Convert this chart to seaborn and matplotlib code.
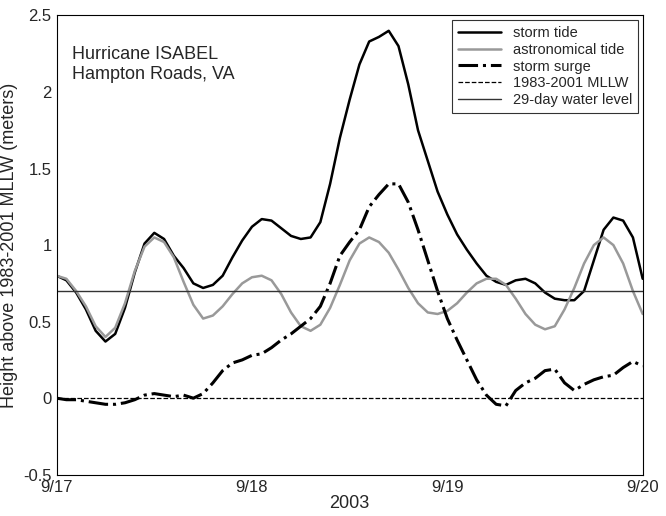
import numpy as np
import pandas as pd
import matplotlib
matplotlib.use('Agg')
import matplotlib.pyplot as plt
import seaborn as sns

# time in days after 9/17 00:00, every 0.05 day
days = [round(0.05 * i, 2) for i in range(61)]
astro = [0.80, 0.78, 0.70, 0.60, 0.47, 0.40, 0.46, 0.62, 0.83, 0.99,
         1.05, 1.02, 0.92, 0.76, 0.61, 0.52, 0.54, 0.60, 0.68, 0.75,
         0.79, 0.80, 0.77, 0.68, 0.56, 0.47, 0.44, 0.48, 0.59, 0.74,
         0.90, 1.01, 1.05, 1.02, 0.95, 0.84, 0.72, 0.62, 0.56, 0.55,
         0.57, 0.62, 0.69, 0.75, 0.78, 0.78, 0.74, 0.65, 0.55, 0.48,
         0.45, 0.47, 0.58, 0.72, 0.88, 1.00, 1.05, 1.00, 0.88, 0.70, 0.55]
surge = [0.00, -0.01, -0.01, -0.02, -0.03, -0.04, -0.04, -0.03, -0.01, 0.02,
         0.03, 0.02, 0.01, 0.02, 0.00, 0.03, 0.10, 0.18, 0.23, 0.25,
         0.28, 0.29, 0.33, 0.38, 0.42, 0.47, 0.52, 0.60, 0.75, 0.93,
         1.02, 1.10, 1.25, 1.33, 1.40, 1.40, 1.28, 1.10, 0.90, 0.70,
         0.52, 0.38, 0.25, 0.12, 0.02, -0.04, -0.05, 0.05, 0.10, 0.13,
         0.18, 0.19, 0.10, 0.05, 0.09, 0.12, 0.14, 0.15, 0.20, 0.24, 0.21]
storm = [0.80, 0.77, 0.69, 0.58, 0.44, 0.37, 0.42, 0.59, 0.82, 1.01,
         1.08, 1.04, 0.93, 0.85, 0.75, 0.72, 0.74, 0.80, 0.92, 1.03,
         1.12, 1.17, 1.16, 1.11, 1.06, 1.04, 1.05, 1.15, 1.40, 1.70,
         1.95, 2.18, 2.33, 2.36, 2.40, 2.30, 2.05, 1.75, 1.55, 1.35,
         1.20, 1.07, 0.97, 0.88, 0.80, 0.76, 0.74, 0.77, 0.78, 0.75,
         0.69, 0.65, 0.64, 0.64, 0.70, 0.90, 1.10, 1.18, 1.16, 1.05, 0.78]
tick_labels = ['9/17', '9/18', '9/19', '9/20']
mllw = 0.0
level29 = 0.70

df = pd.DataFrame({'day': days, 'storm': storm, 'astro': astro, 'surge': surge})

sns.set_style('white')
plt.rcParams['font.family'] = ['Liberation Sans', 'DejaVu Sans']
fig, ax = plt.subplots(figsize=(6.66, 5.16), dpi=100)

sns.lineplot(data=df, x='day', y='storm', ax=ax, color='black', lw=1.8, label='storm tide')
sns.lineplot(data=df, x='day', y='astro', ax=ax, color='#999999', lw=1.8, label='astronomical tide')
sns.lineplot(data=df, x='day', y='surge', ax=ax, color='black', lw=2.2, ls='-.', label='storm surge')
ax.axhline(mllw, color='black', lw=0.9, ls='--', label='1983-2001 MLLW')
ax.axhline(level29, color='#333333', lw=1.0, label='29-day water level')

ax.set_xlim(0, 3)
ax.set_ylim(-0.5, 2.5)
ax.set_xticks([0, 1, 2, 3])
ax.set_xticklabels(tick_labels)
ax.set_yticks([-0.5, 0, 0.5, 1, 1.5, 2, 2.5])
ax.set_yticklabels(['-0.5', '0', '0.5', '1', '1.5', '2', '2.5'])
ax.tick_params(labelsize=12, direction='in', length=4)
ax.set_xlabel('2003', fontsize=13, labelpad=0)
ax.set_ylabel('Height above 1983-2001 MLLW (meters)', fontsize=13)
for s in ax.spines.values():
    s.set_color('black')
ax.text(0.08, 2.3, 'Hurricane ISABEL\nHampton Roads, VA', fontsize=13, va='top')
leg = ax.legend(loc='upper right', fontsize=10.5, frameon=True, fancybox=False,
                edgecolor='black', borderaxespad=0.3, handlelength=3, labelspacing=0.2)
leg.get_frame().set_linewidth(0.8)

plt.subplots_adjust(left=0.085, right=0.965, top=0.97, bottom=0.08)
fig.savefig('out.png', dpi=100)
